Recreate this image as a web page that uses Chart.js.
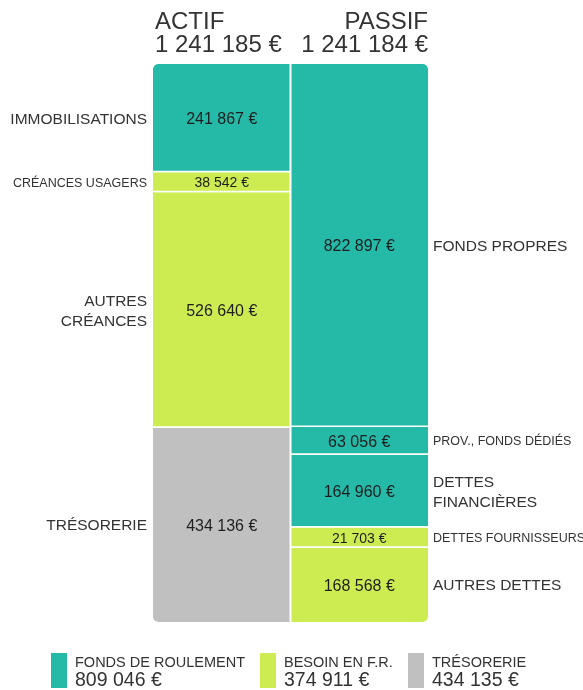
<!DOCTYPE html>
<html lang="fr">
<head>
<meta charset="UTF-8">
<title>Bilan fonctionnel</title>
<script src="https://cdn.jsdelivr.net/npm/chart.js"></script>
<style>
    body { margin: 0; background: #ffffff; }
    canvas { display: block; }
</style>
</head>
<body>
<canvas id="bilan" width="583" height="690"></canvas>
<script>
    const columns = ['ACTIF', 'PASSIF'];
    const totals = [1241185, 1241184];

    const actifLabels = ['IMMOBILISATIONS', 'CRÉANCES USAGERS', 'AUTRES\nCRÉANCES', 'TRÉSORERIE'];
    const actifValues = [241867, 38542, 526640, 434136];
    const actifKinds = ['fr', 'bfr', 'bfr', 'treso'];

    const passifLabels = ['FONDS PROPRES', 'PROV., FONDS DÉDIÉS', 'DETTES\nFINANCIÈRES', 'DETTES FOURNISSEURS', 'AUTRES DETTES'];
    const passifValues = [822897, 63056, 164960, 21703, 168568];
    const passifKinds = ['fr', 'fr', 'fr', 'bfr', 'bfr'];

    const legendLabels = ['FONDS DE ROULEMENT', 'BESOIN EN F.R.', 'TRÉSORERIE'];
    const legendValues = [809046, 374911, 434135];
    const legendKinds = ['fr', 'bfr', 'treso'];

    const colors = { fr: '#25b9a7', bfr: '#ccec52', treso: '#c0c0c0' };
    const FONT = "'Liberation Sans', Arial, sans-serif";

    // tiny blocks get a minimum share of the column so their label fits,
    // the rest is scaled down to keep the same total
    const MIN_SHARE = 0.036;

    function euro(v) {
        return String(v).replace(/\B(?=(\d{3})+(?!\d))/g, ' ') + ' €';
    }

    function shown(values) {
        const total = values.reduce((a, b) => a + b, 0);
        const min = total * MIN_SHARE;
        const small = values.filter(v => v < min);
        const rest = values.filter(v => v >= min).reduce((a, b) => a + b, 0);
        const k = (total - small.length * min) / rest;
        return values.map(v => v < min ? min : v * k);
    }

    // one dataset per block, stacked top to bottom (y axis reversed)
    function makeSets(labels, values, kinds, col) {
        const last = values.length - 1;
        const disp = shown(values);
        return values.map((v, i) => {
            const r = 5;
            return {
                label: labels[i],
                data: col === 0 ? [disp[i], null] : [null, disp[i]],
                amount: v,
                backgroundColor: colors[kinds[i]],
                borderColor: '#ffffff',
                borderSkipped: false,
                inflateAmount: 0,
                borderWidth: {
                    top: 0,
                    bottom: i === last ? 0 : 1.5,
                    left: col === 1 ? 1 : 0,
                    right: col === 0 ? 1 : 0
                },
                borderRadius: {
                    topLeft: col === 0 && i === 0 ? r : 0,
                    topRight: col === 1 && i === 0 ? r : 0,
                    bottomLeft: col === 0 && i === last ? r : 0,
                    bottomRight: col === 1 && i === last ? r : 0
                },
                barPercentage: 1,
                categoryPercentage: 1,
                col: col
            };
        });
    }

    const datasets = makeSets(actifLabels, actifValues, actifKinds, 0)
        .concat(makeSets(passifLabels, passifValues, passifKinds, 1));

    const labelPlugin = {
        id: 'labels',
        afterDatasetsDraw(chart) {
            const ctx = chart.ctx;
            const area = chart.chartArea;
            ctx.save();

            // headers
            ctx.fillStyle = '#333333';
            ctx.font = '24px ' + FONT;
            ctx.textAlign = 'left';
            ctx.fillText(columns[0], area.left + 2, 29);
            ctx.fillText(euro(totals[0]), area.left + 2, 52);
            ctx.textAlign = 'right';
            ctx.fillText(columns[1], area.right, 29);
            ctx.fillText(euro(totals[1]), area.right, 52);

            // blocks
            chart.data.datasets.forEach((ds, di) => {
                const meta = chart.getDatasetMeta(di);
                const el = meta.data[ds.col];
                const p = el.getProps(['x', 'y', 'base', 'width'], true);
                const top = Math.min(p.y, p.base), bot = Math.max(p.y, p.base);
                const cy = (top + bot) / 2;
                const h = bot - top;

                const vs = h < 24 ? 14 : 16;
                ctx.font = vs + 'px ' + FONT;
                ctx.fillStyle = '#1e1e1e';
                ctx.textAlign = 'center';
                ctx.fillText(euro(ds.amount), p.x, cy + vs * 0.36);

                const lines = ds.label.split('\n');
                ctx.font = '15.5px ' + FONT;
                let ls = 15.5;
                if (lines.length === 1 && ctx.measureText(lines[0]).width > 155) ls = 12.5;
                ctx.font = ls + 'px ' + FONT;
                ctx.fillStyle = '#333333';
                const lh = 20;
                const y0 = cy - (lines.length - 1) * lh / 2 + ls * 0.36;
                if (ds.col === 0) {
                    ctx.textAlign = 'right';
                    lines.forEach((t, k) => ctx.fillText(t, p.x - p.width / 2 - 6, y0 + k * lh));
                } else {
                    ctx.textAlign = 'left';
                    lines.forEach((t, k) => ctx.fillText(t, p.x + p.width / 2 + 5, y0 + k * lh));
                }
            });

            // legend
            const lx = [51, 260, 408];
            legendLabels.forEach((t, i) => {
                ctx.fillStyle = colors[legendKinds[i]];
                ctx.fillRect(lx[i], 653, 16, 35);
                ctx.fillStyle = '#333333';
                ctx.textAlign = 'left';
                ctx.font = '14.5px ' + FONT;
                ctx.fillText(t, lx[i] + 24, 667);
                ctx.font = '19.5px ' + FONT;
                ctx.fillText(euro(legendValues[i]), lx[i] + 24, 686);
            });
            ctx.restore();
        }
    };

    new Chart(document.getElementById('bilan'), {
        type: 'bar',
        data: { labels: columns, datasets: datasets },
        options: {
            responsive: false,
            animation: false,
            layout: { padding: { left: 153, right: 155, top: 64, bottom: 68 } },
            plugins: { legend: { display: false }, tooltip: { enabled: false } },
            scales: {
                x: { display: false, stacked: true },
                y: { display: false, stacked: true, reverse: true, min: 0, max: totals[0] }
            }
        },
        plugins: [labelPlugin]
    });
</script>
</body>
</html>
